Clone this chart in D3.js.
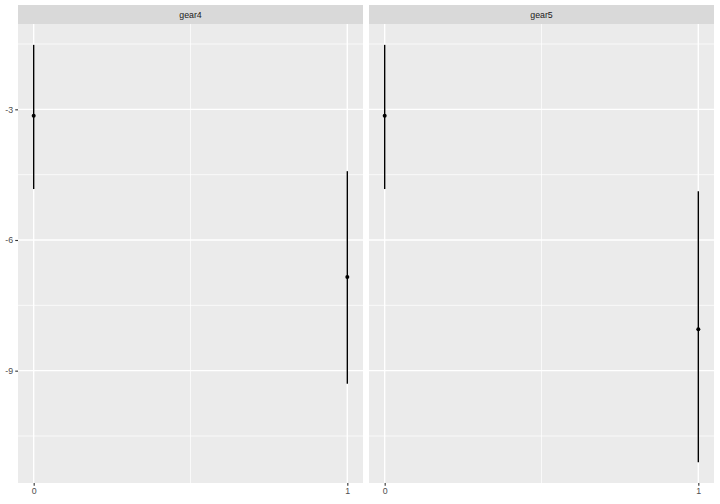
<!DOCTYPE html>
<html>
<head>
<meta charset="utf-8">
<script src="https://cdn.jsdelivr.net/npm/d3@7"></script>
<style>
  html, body { margin: 0; padding: 0; background: #fff; }
  svg { display: block; }
  text { font-family: "Liberation Sans", Arial, sans-serif; }
</style>
</head>
<body>
<svg id="chart" width="720" height="504"></svg>
<script>
// ---- data ----
const facets = ["gear4", "gear5"];
const xValues = [0, 1];
const estimate = { gear4: [-3.15, -6.85], gear5: [-3.15, -8.05] };
const lower    = { gear4: [-4.83, -9.30], gear5: [-4.83, -11.10] };
const upper    = { gear4: [-1.52, -4.42], gear5: [-1.52, -4.88] };
const yTicks = [-3, -6, -9];
const yMinor = [-1.5, -4.5, -7.5, -10.5];
const xTicks = [0, 1];
const xMinor = [0.5];

// ---- layout ----
const svg = d3.select("#chart");
const panelTop = 24, panelBottom = 483, stripTop = 5;
const panels = [{ left: 18, right: 363 }, { left: 369, right: 714 }];
const fmt = d => String(d);

const allLo = d3.min(facets.flatMap(f => lower[f]));
const allHi = d3.max(facets.flatMap(f => upper[f]));
const ySpan = allHi - allLo;
const y = d3.scaleLinear()
  .domain([allLo - 0.05 * ySpan, allHi + 0.05 * ySpan])
  .range([panelBottom, panelTop]);

facets.forEach((f, i) => {
  const p = panels[i];
  const x = d3.scaleLinear().domain([-0.05, 1.05]).range([p.left, p.right]);
  const g = svg.append("g");

  // panel background
  g.append("rect").attr("x", p.left).attr("y", panelTop)
    .attr("width", p.right - p.left).attr("height", panelBottom - panelTop)
    .attr("fill", "#EBEBEB");

  // minor grid
  g.selectAll(".ymin").data(yMinor).enter().append("line")
    .attr("x1", p.left).attr("x2", p.right)
    .attr("y1", d => y(d)).attr("y2", d => y(d))
    .attr("stroke", "#fff").attr("stroke-width", 0.7);
  g.selectAll(".xmin").data(xMinor).enter().append("line")
    .attr("y1", panelTop).attr("y2", panelBottom)
    .attr("x1", d => x(d)).attr("x2", d => x(d))
    .attr("stroke", "#fff").attr("stroke-width", 0.7);
  // major grid
  g.selectAll(".ymaj").data(yTicks).enter().append("line")
    .attr("x1", p.left).attr("x2", p.right)
    .attr("y1", d => y(d)).attr("y2", d => y(d))
    .attr("stroke", "#fff").attr("stroke-width", 1.4);
  g.selectAll(".xmaj").data(xTicks).enter().append("line")
    .attr("y1", panelTop).attr("y2", panelBottom)
    .attr("x1", d => x(d)).attr("x2", d => x(d))
    .attr("stroke", "#fff").attr("stroke-width", 1.4);

  // strip
  g.append("rect").attr("x", p.left).attr("y", stripTop)
    .attr("width", p.right - p.left).attr("height", panelTop - stripTop)
    .attr("fill", "#D9D9D9");
  g.append("text").attr("x", (p.left + p.right) / 2).attr("y", (stripTop + panelTop) / 2)
    .attr("text-anchor", "middle").attr("dominant-baseline", "central")
    .attr("font-size", 8.8).attr("fill", "#1A1A1A").text(f);

  // data: line ranges + points
  const rows = xValues.map((xv, k) => ({ x: xv, est: estimate[f][k], lo: lower[f][k], hi: upper[f][k] }));
  g.selectAll(".rng").data(rows).enter().append("line")
    .attr("x1", d => x(d.x)).attr("x2", d => x(d.x))
    .attr("y1", d => y(d.lo)).attr("y2", d => y(d.hi))
    .attr("stroke", "#000").attr("stroke-width", 1.4);
  g.selectAll(".pt").data(rows).enter().append("circle")
    .attr("cx", d => x(d.x)).attr("cy", d => y(d.est)).attr("r", 2)
    .attr("fill", "#000");

  // x axis
  const xAxis = d3.axisBottom(x).tickValues(xTicks).tickSize(2.75).tickPadding(2.2).tickFormat(fmt);
  const ax = svg.append("g").attr("transform", `translate(0,${panelBottom})`).call(xAxis);
  ax.select(".domain").remove();
  ax.selectAll(".tick line").attr("stroke", "#333333").attr("stroke-width", 1.1);
  ax.selectAll(".tick text").attr("fill", "#4D4D4D").attr("font-size", 8.8)
    .style("font-family", "'Liberation Sans', Arial, sans-serif");

  if (i === 0) {
    const yAxis = d3.axisLeft(y).tickValues(yTicks).tickSize(2.75).tickPadding(2.2).tickFormat(fmt);
    const ay = svg.append("g").attr("transform", `translate(${p.left},0)`).call(yAxis);
    ay.select(".domain").remove();
    ay.selectAll(".tick line").attr("stroke", "#333333").attr("stroke-width", 1.1);
    ay.selectAll(".tick text").attr("fill", "#4D4D4D").attr("font-size", 8.8)
      .style("font-family", "'Liberation Sans', Arial, sans-serif");
  }
});
</script>
</body>
</html>
